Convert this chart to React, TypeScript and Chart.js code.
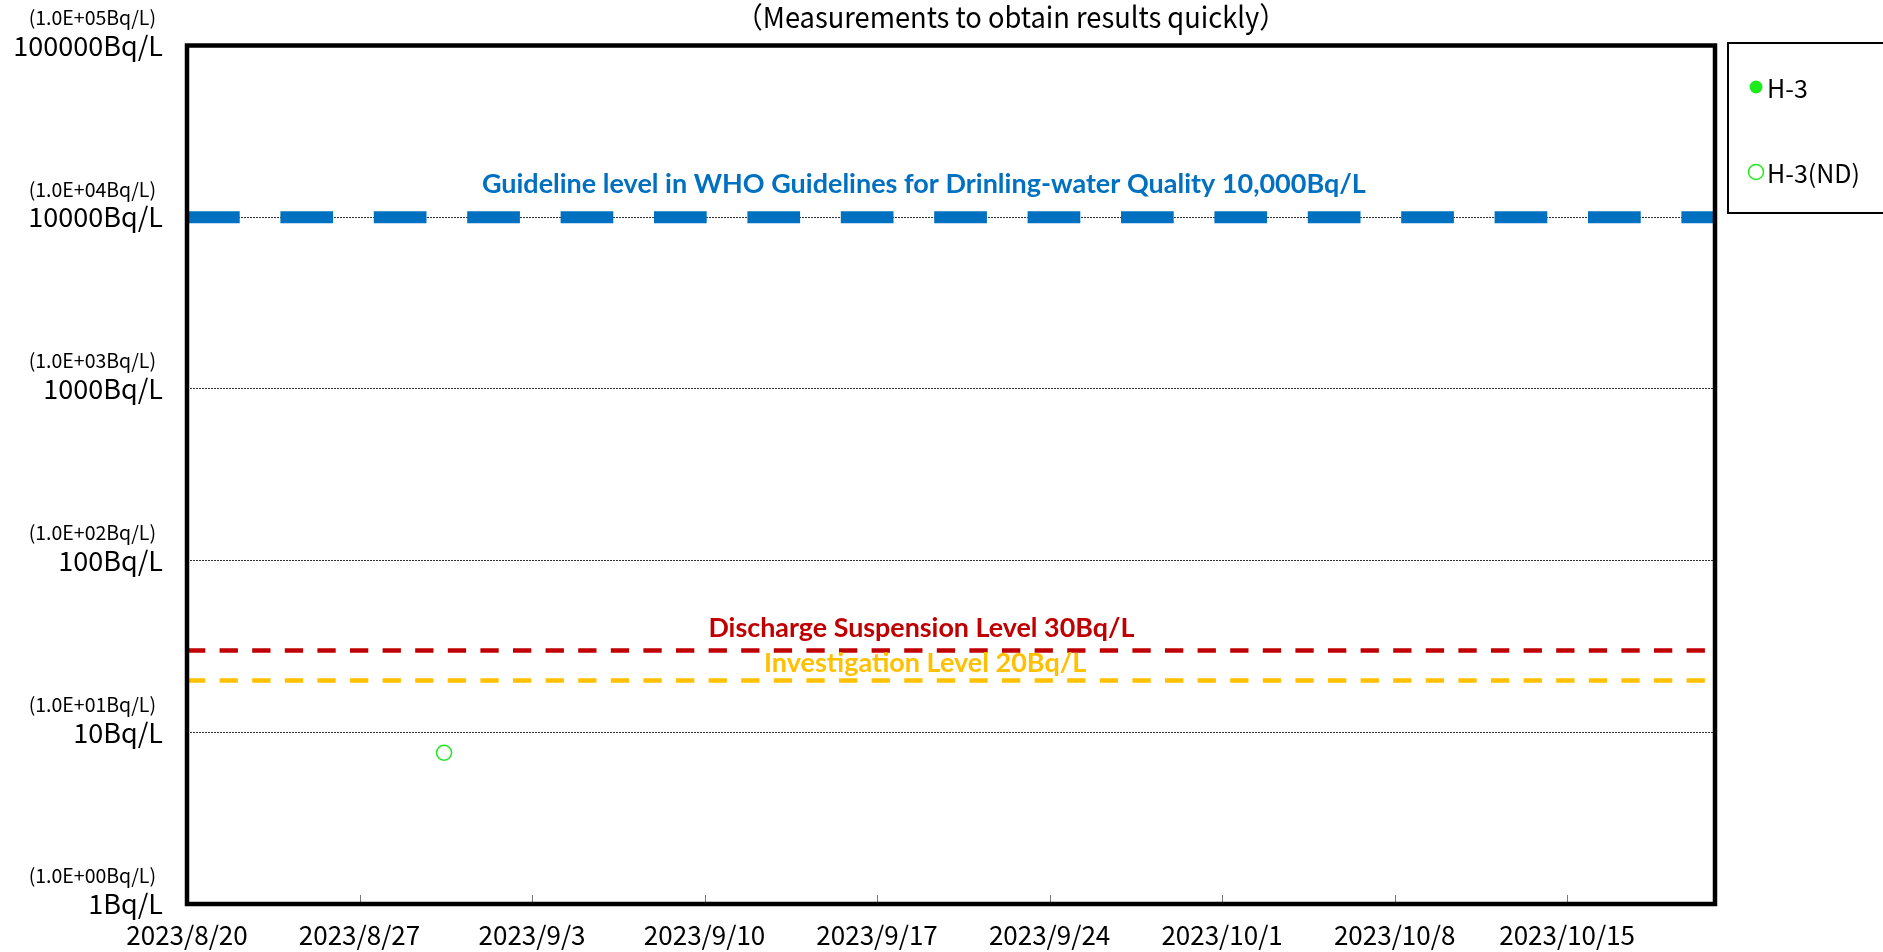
import React, { useEffect, useRef } from "react";
import { Chart, registerables } from "chart.js";

Chart.register(...registerables);

// ---------- data ----------
const startDate = "2023/8/20";
const endDate = "2023/10/21";
const xTickLabels = [
  "2023/8/20",
  "2023/8/27",
  "2023/9/3",
  "2023/9/10",
  "2023/9/17",
  "2023/9/24",
  "2023/10/1",
  "2023/10/8",
  "2023/10/15",
];
const yTickValues = [1, 10, 100, 1000, 10000, 100000];
const yTickLabels = ["1Bq/L", "10Bq/L", "100Bq/L", "1000Bq/L", "10000Bq/L", "100000Bq/L"];
const yTickSubLabels = [
  "(1.0E+00Bq/L)",
  "(1.0E+01Bq/L)",
  "(1.0E+02Bq/L)",
  "(1.0E+03Bq/L)",
  "(1.0E+04Bq/L)",
  "(1.0E+05Bq/L)",
];
// H-3 detected values (none in this period)
const h3Dates: string[] = [];
const h3Values: number[] = [];
// H-3 not detected (ND) values
const h3NdDates = ["2023/8/30 10:20"];
const h3NdValues = [7.6];
// reference levels
const refNames = [
  "Guideline level in WHO Guidelines for Drinling-water Quality 10,000Bq/L",
  "Discharge Suspension Level 30Bq/L",
  "Investigation Level 20Bq/L",
];
const refValues = [10000, 30, 20];
const refColors = ["#0070C0", "#C00000", "#FFC000"];
const titleText = "（Measurements to obtain results quickly）";
const legendNames = ["H-3", "H-3(ND)"];

// ---------- helpers ----------
const DAY_MS = 86400000;
function toDays(s: string): number {
  const [d, t] = s.split(" ");
  const [Y, M, D] = d.split("/").map(Number);
  let h = 0;
  let m = 0;
  if (t) [h, m] = t.split(":").map(Number);
  const [sY, sM, sD] = startDate.split("/").map(Number);
  return (Date.UTC(Y, M - 1, D, h, m) - Date.UTC(sY, sM - 1, sD)) / DAY_MS;
}
const xTickDays = xTickLabels.map((l) => toDays(l));
const xMax = toDays(endDate);

const CJK = "'Noto Sans CJK JP', 'Noto Sans', sans-serif";
const GREEN = "#1DEB1D";

const decorPlugin = {
  id: "decor",
  afterDatasetsDraw(chart: any) {
    const { ctx, chartArea } = chart;
    const { left, right, top, bottom } = chartArea;
    const xs = chart.scales.x;
    ctx.save();
    // small inside tick marks on x axis
    ctx.strokeStyle = "#777";
    ctx.lineWidth = 1;
    xTickDays.forEach((d, i) => {
      if (i === 0) return;
      const px = Math.round(xs.getPixelForValue(d)) + 0.5;
      ctx.beginPath();
      ctx.moveTo(px, bottom - 2);
      ctx.lineTo(px, bottom - 9);
      ctx.stroke();
    });
    // plot frame
    ctx.strokeStyle = "#000";
    ctx.lineWidth = 4.5;
    ctx.strokeRect(left, top, right - left, bottom - top);
    ctx.restore();
  },
  afterDraw(chart: any) {
    const { ctx } = chart;
    const xs = chart.scales.x;
    const ys = chart.scales.y;
    ctx.save();
    // title
    ctx.fillStyle = "#000";
    ctx.font = `29px ${CJK}`;
    ctx.textAlign = "center";
    ctx.textBaseline = "middle";
    ctx.fillText(titleText, 1011, 17, 551);

    // small y sub labels
    ctx.font = `19.5px ${CJK}`;
    ctx.textAlign = "right";
    yTickValues.forEach((v, i) => {
      ctx.fillText(yTickSubLabels[i], 156, ys.getPixelForValue(v) - 28, 130);
    });

    // reference level labels
    const refOffsets = [33, 22, 17];
    const refWidths = [884, 426, 324];
    const refDay = [29.9, 29.8, 29.95];
    ctx.font = `bold 27px Lato, 'Open Sans', sans-serif`;
    ctx.textAlign = "center";
    refValues.forEach((v, i) => {
      ctx.fillStyle = refColors[i];
      ctx.fillText(
        refNames[i],
        xs.getPixelForValue(refDay[i]),
        ys.getPixelForValue(v) - refOffsets[i],
        refWidths[i]
      );
    });

    // legend
    ctx.strokeStyle = "#000";
    ctx.lineWidth = 2;
    ctx.strokeRect(1728, 43, 156, 170);
    ctx.fillStyle = GREEN;
    ctx.beginPath();
    ctx.arc(1756, 87, 6.5, 0, Math.PI * 2);
    ctx.fill();
    ctx.fillStyle = "#fff";
    ctx.strokeStyle = GREEN;
    ctx.lineWidth = 1.5;
    ctx.beginPath();
    ctx.arc(1756, 172, 7.5, 0, Math.PI * 2);
    ctx.fill();
    ctx.stroke();
    ctx.fillStyle = "#000";
    ctx.font = `25px ${CJK}`;
    ctx.textAlign = "left";
    ctx.fillText(legendNames[0], 1767, 88, 48);
    ctx.fillText(legendNames[1], 1767, 173, 96);
    ctx.restore();
  },
};

export default function App() {
  const ref = useRef<HTMLCanvasElement>(null);
  useEffect(() => {
    document.body.style.margin = "0";
    const canvas = ref.current!;
    const refDatasets = refValues.map((v, i) => ({
      label: refNames[i],
      data: [
        { x: 0, y: v },
        { x: xMax, y: v },
      ],
      showLine: true,
      borderColor: refColors[i],
      backgroundColor: refColors[i],
      borderWidth: i === 0 ? 12 : 4.5,
      borderDash: i === 0 ? [52.7, 40.7] : [18.3, 14.3],
      borderCapStyle: "butt" as const,
      pointRadius: 0,
      order: 2,
    }));
    const chart = new Chart(canvas, {
      type: "scatter",
      data: {
        datasets: [
          ...refDatasets,
          {
            label: legendNames[0],
            data: h3Dates.map((d, i) => ({ x: toDays(d), y: h3Values[i] })),
            pointRadius: 6.5,
            pointBackgroundColor: GREEN,
            pointBorderColor: GREEN,
            order: 1,
          },
          {
            label: legendNames[1],
            data: h3NdDates.map((d, i) => ({ x: toDays(d), y: h3NdValues[i] })),
            pointRadius: 7.5,
            pointBorderWidth: 1.5,
            pointBackgroundColor: "#fff",
            pointBorderColor: GREEN,
            order: 0,
          },
        ],
      },
      options: {
        animation: false,
        responsive: false,
        events: [],
        layout: { padding: { top: 45.5, right: 168, left: 0, bottom: 0 } },
        plugins: {
          legend: { display: false },
          tooltip: { enabled: false },
          title: { display: false },
        },
        scales: {
          x: {
            type: "linear",
            min: 0,
            max: xMax,
            afterBuildTicks: (s: any) => {
              s.ticks = xTickDays.map((v) => ({ value: v }));
            },
            afterFit: (s: any) => {
              s.height = 48;
            },
            grid: { display: false, drawTicks: false },
            border: { display: false },
            ticks: {
              autoSkip: false,
              maxRotation: 0,
              padding: 16,
              color: "#000",
              font: { family: CJK, size: 26 },
              callback: (v: any) => {
                const idx = xTickDays.indexOf(Number(v));
                return idx >= 0 ? xTickLabels[idx] : "";
              },
            },
          },
          y: {
            type: "logarithmic",
            min: 1,
            max: 100000,
            afterBuildTicks: (s: any) => {
              s.ticks = yTickValues.map((v) => ({ value: v }));
            },
            afterFit: (s: any) => {
              s.width = 187;
            },
            grid: { color: "#333", lineWidth: 1, drawTicks: false },
            border: { display: false, dash: [2, 1] },
            ticks: {
              autoSkip: false,
              padding: 24,
              color: "#000",
              font: { family: CJK, size: 27 },
              callback: (v: any) => {
                const idx = yTickValues.indexOf(Number(v));
                return idx >= 0 ? yTickLabels[idx] : "";
              },
            },
          },
        },
      },
      plugins: [decorPlugin],
    });
    return () => chart.destroy();
  }, []);
  return (
    <div style={{ width: 1883, height: 952, background: "#fff" }}>
      <canvas ref={ref} width={1883} height={952} style={{ display: "block" }} />
    </div>
  );
}
